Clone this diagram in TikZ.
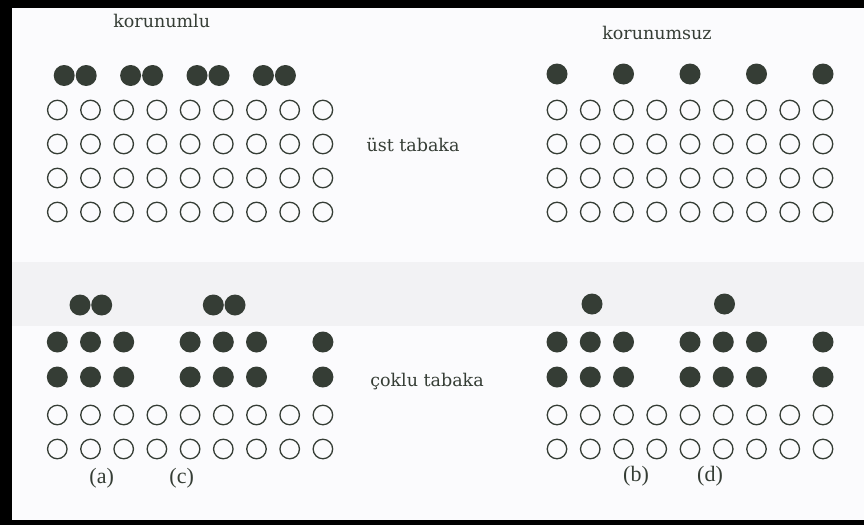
\documentclass[tikz,border=0pt]{standalone}
\usepackage{fontspec}
\setmainfont{Liberation Serif}
\newfontfamily\slabfont{DejaVu Serif}
\definecolor{ink}{HTML}{353D35}
\definecolor{paper}{HTML}{FBFBFD}
\definecolor{band}{HTML}{F2F2F4}
\begin{document}
\begin{tikzpicture}[x=1pt,y=-1pt,
  opencirc/.style={circle,draw=ink,line width=1.3pt,minimum size=19.5pt,inner sep=0pt},
  fullcirc/.style={circle,fill=ink,minimum size=21pt,inner sep=0pt},
  headlbl/.style={font=\slabfont\fontsize{17.5}{17.5}\selectfont,text=ink,inner sep=0pt},
  sublbl/.style={font=\fontsize{22}{22}\selectfont,text=ink,inner sep=0pt}]
\useasboundingbox (0,0) rectangle (864,525);
\fill[paper] (0,0) rectangle (864,525);
\fill[band] (12,262) rectangle (864,326);
% frame
\fill[black] (0,0) rectangle (864,8);
\fill[black] (0,0) rectangle (12,525);
\fill[black] (0,520) rectangle (864,525);
% top grids
\foreach \r/\y in {1/110,2/144,3/178,4/212}{
  \foreach \c in {1,...,9}{
    \node[opencirc] (tl\r\c) at ({57.3+33.2*(\c-1)},\y) {};
    \node[opencirc] (tr\r\c) at ({557+33.25*(\c-1)},\y) {};
  }
}
% top-left filled pairs
\foreach \p in {0,1,2,3}{
  \node[fullcirc] (tla\p) at ({75.2+66.4*\p-11},75.5) {};
  \node[fullcirc] (tlb\p) at ({75.2+66.4*\p+11},75.5) {};
}
% top-right filled singles
\foreach \c in {1,3,5,7,9}{
  \node[fullcirc] (trf\c) at ({557+33.25*(\c-1)},74) {};
}
% bottom grids
\foreach \r/\y in {1/415,2/449}{
  \foreach \c in {1,...,9}{
    \node[opencirc] (bl\r\c) at ({57.3+33.2*(\c-1)},\y) {};
    \node[opencirc] (br\r\c) at ({557+33.25*(\c-1)},\y) {};
  }
}
\foreach \r/\y in {1/342,2/377}{
  \foreach \c in {1,2,3,5,6,7,9}{
    \node[fullcirc] (blf\r\c) at ({57.3+33.2*(\c-1)},\y) {};
    \node[fullcirc] (brf\r\c) at ({557+33.25*(\c-1)},\y) {};
  }
}
% bottom-left top pairs
\node[fullcirc] (bp1a) at (80,305) {};
\node[fullcirc] (bp1b) at (101.7,305) {};
\node[fullcirc] (bp2a) at (213.3,305) {};
\node[fullcirc] (bp2b) at (235,305) {};
% bottom-right top singles
\node[fullcirc] (bs1) at (592,304) {};
\node[fullcirc] (bs2) at (724.5,304) {};
% labels
\node[headlbl] (korl) at (161.7,21) {korunumlu};
\node[headlbl] (kors) at (657,33) {korunumsuz};
\node[headlbl] (ust) at (413,145) {üst tabaka};
\node[headlbl] (cok) at (427,382) {çoklu tabaka};
\node[sublbl] (la) at (101.7,478) {(a)};
\node[sublbl] (lc) at (181.7,478) {(c)};
\node[sublbl] (lb) at (636,476) {(b)};
\node[sublbl] (ld) at (710,476) {(d)};
\end{tikzpicture}
\end{document}
